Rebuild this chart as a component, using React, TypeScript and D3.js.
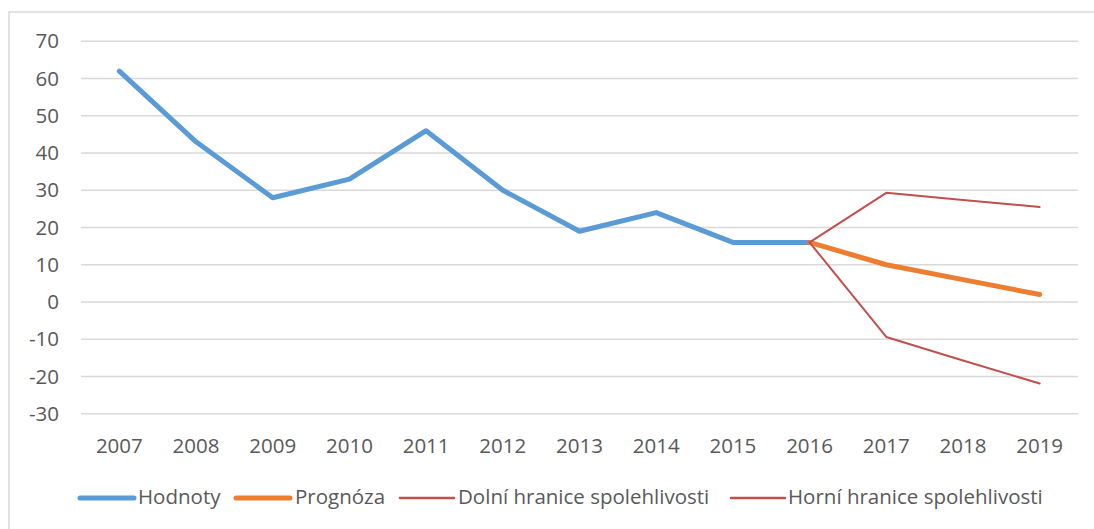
import React from 'react';
import * as d3 from 'd3';

const years = ['2007', '2008', '2009', '2010', '2011', '2012', '2013', '2014', '2015', '2016', '2017', '2018', '2019'];
const hodnotyYears = ['2007', '2008', '2009', '2010', '2011', '2012', '2013', '2014', '2015', '2016'];
const hodnoty = [62, 43, 28, 33, 46, 30, 19, 24, 16, 16];
const forecastYears = ['2016', '2017', '2018', '2019'];
const prognoza = [16, 10, 6, 2];
const dolni = [16, -9.4, -15.7, -21.9];
const horni = [16, 29.3, 27.4, 25.5];
const yTicks = [70, 60, 50, 40, 30, 20, 10, 0, -10, -20, -30];

const W = 1094;
const H = 529;
const FONT = '"Open Sans", sans-serif';
const TEXT = '#595959';
const FS = 20.5;

const x = d3.scaleBand<string>().domain(years).range([81, 1078]);
const y = d3.scaleLinear().domain([-30, 70]).range([413.7, 41.3]);
const cx = (yr: string) => (x(yr) ?? 0) + x.bandwidth() / 2;

const line = d3.line<[string, number]>()
  .x(d => cx(d[0]))
  .y(d => y(d[1]));

const zip = (ks: string[], vs: number[]) => ks.map((k, i) => [k, vs[i]] as [string, number]);

const series = [
  { name: 'Hodnoty', color: '#5B9BD5', width: 5, keys: hodnotyYears, values: hodnoty },
  { name: 'Prognóza', color: '#ED7D31', width: 5, keys: forecastYears, values: prognoza },
  { name: 'Dolní hranice spolehlivosti', color: '#C0504D', width: 2, keys: forecastYears, values: dolni },
  { name: 'Horní hranice spolehlivosti', color: '#C0504D', width: 2, keys: forecastYears, values: horni },
];

// legend: line start, text start
const legendPos = [[80, 138], [236, 295], [400, 458], [731, 788]];

export default function App() {
  return (
    <svg width={W} height={H} style={{ position: 'absolute', left: 0, top: 0, background: '#fff' }}>
      <rect x={9} y={12} width={W} height={H} fill="#fff" stroke="#d9d9d9" strokeWidth={1.5} />

      {/* grid + y labels */}
      {yTicks.map(t => (
        <g key={t}>
          <line x1={81} x2={1078} y1={y(t)} y2={y(t)} stroke="#d9d9d9" strokeWidth={1.5} />
          <text x={59} y={y(t)} dy="0.35em" textAnchor="end" fontFamily={FONT} fontSize={FS} fill={TEXT}>{t}</text>
        </g>
      ))}

      {/* x labels */}
      {years.map(yr => (
        <text key={yr} x={cx(yr)} y={446} dy="0.35em" textAnchor="middle" fontFamily={FONT} fontSize={FS} fill={TEXT}>{yr}</text>
      ))}

      {/* series */}
      {series.map(s => (
        <path key={s.name} d={line(zip(s.keys, s.values)) ?? ''} fill="none" stroke={s.color}
          strokeWidth={s.width} strokeLinejoin="round" strokeLinecap="round" />
      ))}

      {/* legend */}
      {series.map((s, i) => (
        <g key={s.name}>
          <line x1={legendPos[i][0]} x2={legendPos[i][0] + 54} y1={498} y2={498} stroke={s.color}
            strokeWidth={s.width === 5 ? 5 : 2.5} strokeLinecap="round" />
          <text x={legendPos[i][1]} y={497} dy="0.35em" fontFamily={FONT} fontSize={FS} fill={TEXT}>{s.name}</text>
        </g>
      ))}
    </svg>
  );
}
